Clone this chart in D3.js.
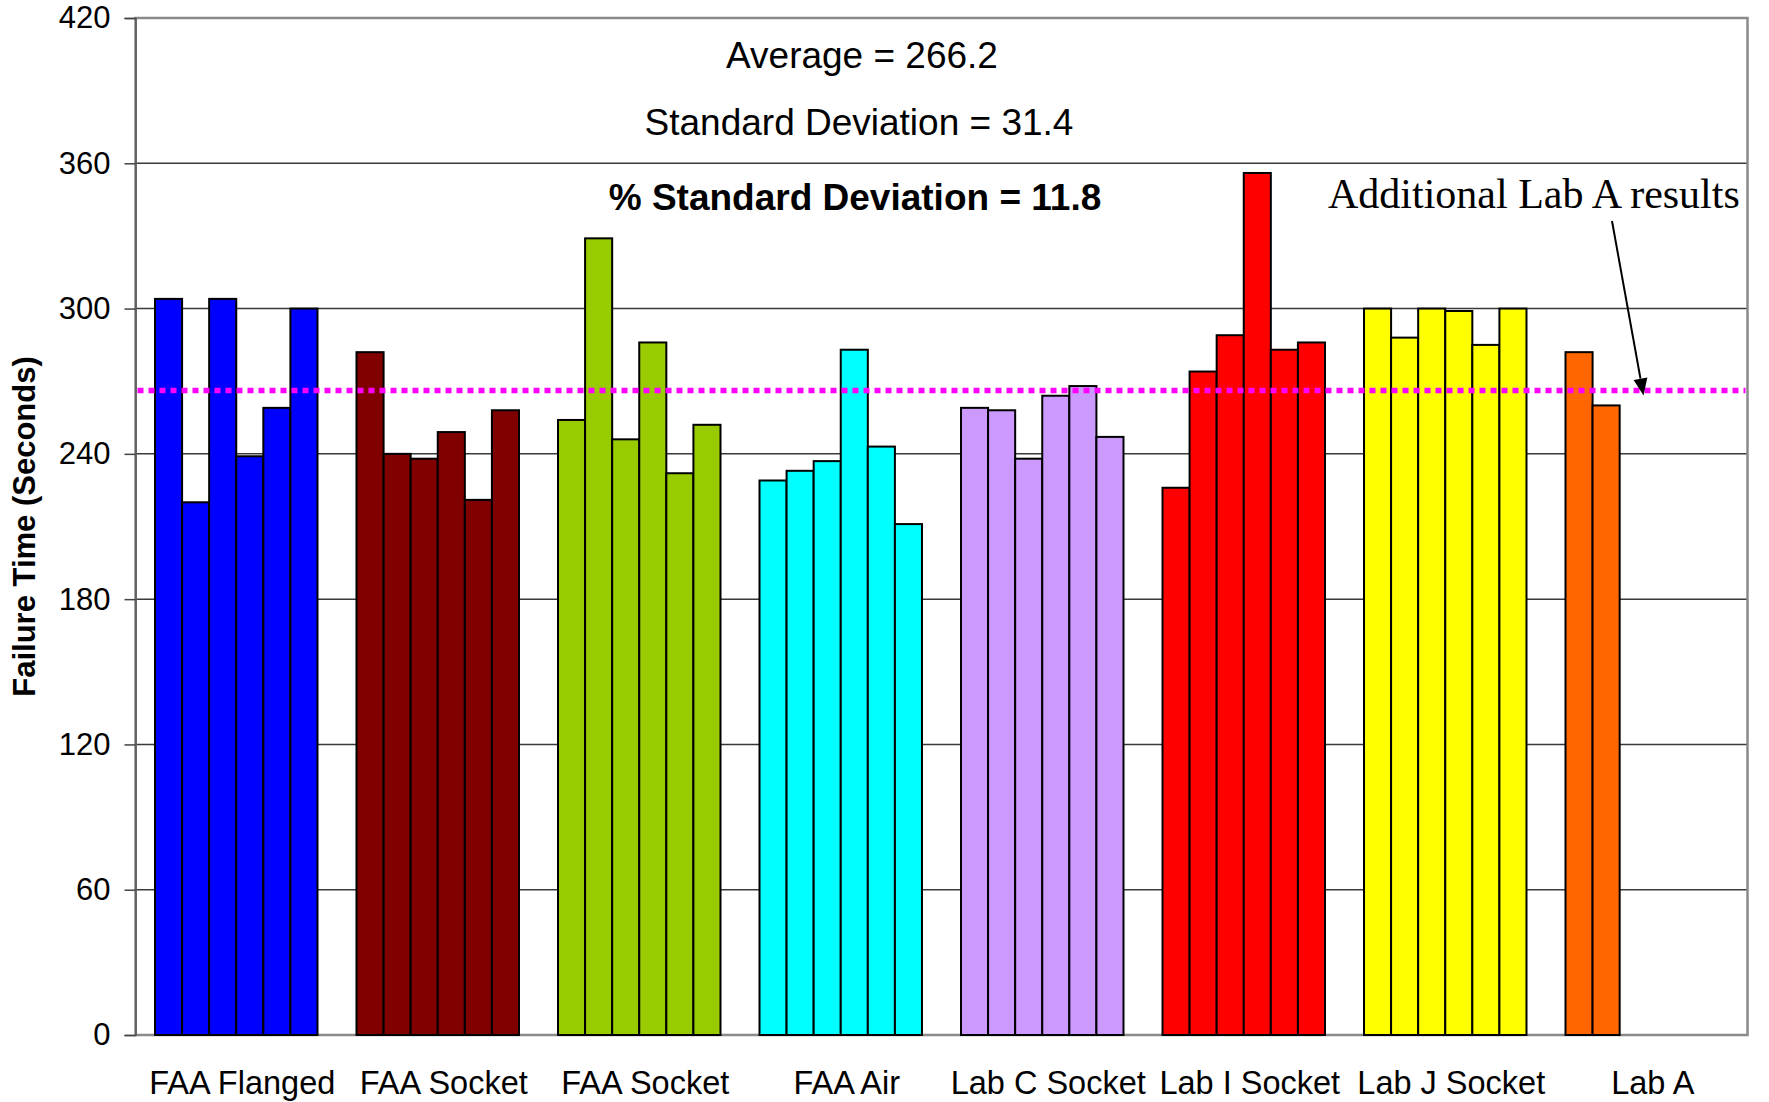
<!DOCTYPE html>
<html>
<head>
<meta charset="utf-8">
<script src="https://cdn.jsdelivr.net/npm/d3@7"></script>
<style>
  body { margin: 0; background: #fff; }
  svg { display: block; }
</style>
</head>
<body>
<svg id="chart" width="1769" height="1102"></svg>
<script>
// Failure times (seconds) for each test group
const categories = ["FAA Flanged", "FAA Socket", "FAA Socket", "FAA Air",
                    "Lab C Socket", "Lab I Socket", "Lab J Socket", "Lab A"];
const faaFlanged  = [304, 220, 304, 239, 259, 300];
const faaSocket   = [282, 240, 238, 249, 221, 258];
const faaSocket2  = [254, 329, 246, 286, 232, 252];
const faaAir      = [229, 233, 237, 283, 243, 211];
const labCSocket  = [259, 258, 238, 264, 268, 247];
const labISocket  = [226, 274, 289, 356, 283, 286];
const labJSocket  = [300, 288, 300, 299, 285, 300];
const labA        = [282, 260];
const groupColors = ["#0000FF", "#800000", "#99CC00", "#00FFFF",
                     "#CC99FF", "#FF0000", "#FFFF00", "#FF6600"];
const yTicks = [0, 60, 120, 180, 240, 300, 360, 420];

// Summary statistics shown on the chart
const average = 266.2;
const stdDev = 31.4;
const pctStdDev = 11.8;

const groups = [faaFlanged, faaSocket, faaSocket2, faaAir,
                labCSocket, labISocket, labJSocket, labA];
const runsPerGroup = 6;

const svg = d3.select("#chart");
const plot = { left: 135.5, right: 1747.5, top: 18, bottom: 1035 };

const y = d3.scaleLinear().domain([0, 420]).range([plot.bottom, plot.top]);
const x0 = d3.scaleBand()
  .domain(d3.range(categories.length))
  .range([plot.left, plot.right])
  .padding(0);
const gap = x0.step() * 0.0968;
const x1 = d3.scaleBand()
  .domain(d3.range(runsPerGroup))
  .range([gap, x0.step() - gap])
  .padding(0);

// Horizontal gridlines
svg.append("g")
  .selectAll("line")
  .data(yTicks.filter(t => t > 0 && t < 420))
  .join("line")
  .attr("x1", plot.left).attr("x2", plot.right)
  .attr("y1", d => y(d)).attr("y2", d => y(d))
  .attr("stroke", "#3a3a3a").attr("stroke-width", 1.5);

// Plot frame
svg.append("rect")
  .attr("x", plot.left).attr("y", plot.top)
  .attr("width", plot.right - plot.left)
  .attr("height", plot.bottom - plot.top)
  .attr("fill", "none").attr("stroke", "#8a8a8a").attr("stroke-width", 2.5);

// Bars
const bars = [];
groups.forEach((vals, g) => vals.forEach((v, i) => bars.push({ g, i, v })));
svg.append("g")
  .selectAll("rect")
  .data(bars)
  .join("rect")
  .attr("x", d => x0(d.g) + x1(d.i))
  .attr("y", d => y(d.v))
  .attr("width", x1.bandwidth())
  .attr("height", d => y(0) - y(d.v))
  .attr("fill", d => groupColors[d.g])
  .attr("stroke", "#000").attr("stroke-width", 2);

// Y axis
const yAxis = svg.append("g")
  .attr("transform", `translate(${plot.left},0)`)
  .call(d3.axisLeft(y).tickValues(yTicks).tickSize(11).tickPadding(14));
yAxis.select(".domain").attr("stroke", "#555").attr("stroke-width", 1.5);
yAxis.selectAll(".tick line").attr("stroke", "#444").attr("stroke-width", 1.5);
yAxis.selectAll("text")
  .attr("font-family", "'Liberation Sans', Arial, sans-serif")
  .attr("font-size", 31).attr("fill", "#000");

// X axis (category labels)
const xAxis = svg.append("g")
  .attr("transform", `translate(0,${plot.bottom})`)
  .call(d3.axisBottom(x0).tickSize(0).tickPadding(36).tickFormat(i => categories[i]));
xAxis.select(".domain").remove();
xAxis.selectAll("text")
  .attr("dx", 6)
  .attr("font-family", "'Liberation Sans', Arial, sans-serif")
  .attr("font-size", 32.5).attr("fill", "#000");

// Y axis title
svg.append("text")
  .attr("transform", `translate(35,${(plot.top + plot.bottom) / 2}) rotate(-90)`)
  .attr("text-anchor", "middle")
  .attr("font-family", "'Liberation Sans', Arial, sans-serif")
  .attr("font-weight", "bold").attr("font-size", 31)
  .text("Failure Time (Seconds)");

// Average line
svg.append("line")
  .attr("x1", plot.left + 2).attr("x2", plot.right - 2)
  .attr("y1", y(average)).attr("y2", y(average))
  .attr("stroke", "#FF00FF").attr("stroke-width", 5.5)
  .attr("stroke-dasharray", "6 5");

// Statistics text
const stats = svg.append("g")
  .attr("font-family", "'Liberation Sans', Arial, sans-serif")
  .attr("font-size", 37).attr("text-anchor", "middle").attr("fill", "#000");
stats.append("text").attr("x", 862).attr("y", 68)
  .text(`Average = ${average.toFixed(1)}`);
stats.append("text").attr("x", 859).attr("y", 135)
  .text(`Standard Deviation = ${stdDev.toFixed(1)}`);
stats.append("text").attr("x", 855).attr("y", 210).attr("font-weight", "bold")
  .text(`% Standard Deviation = ${pctStdDev.toFixed(1)}`);

// Annotation with arrow pointing to the Lab A results
svg.append("text")
  .attr("x", 1328).attr("y", 208)
  .attr("font-family", "'Liberation Serif', 'Times New Roman', serif")
  .attr("font-size", 42).attr("fill", "#000")
  .text("Additional Lab A results");

const arrowStart = [1612, 221];
const arrowTip = [1643.5, y(average) + 5];
const ang = Math.atan2(arrowTip[1] - arrowStart[1], arrowTip[0] - arrowStart[0]);
const headLen = 17, headHalf = 7;
const bx = arrowTip[0] - headLen * Math.cos(ang), by = arrowTip[1] - headLen * Math.sin(ang);
svg.append("line")
  .attr("x1", arrowStart[0]).attr("y1", arrowStart[1])
  .attr("x2", bx).attr("y2", by)
  .attr("stroke", "#000").attr("stroke-width", 2);
svg.append("path")
  .attr("d", d3.line()([
    arrowTip,
    [bx + headHalf * Math.sin(ang), by - headHalf * Math.cos(ang)],
    [bx - headHalf * Math.sin(ang), by + headHalf * Math.cos(ang)]
  ]) + "Z")
  .attr("fill", "#000");
</script>
</body>
</html>
